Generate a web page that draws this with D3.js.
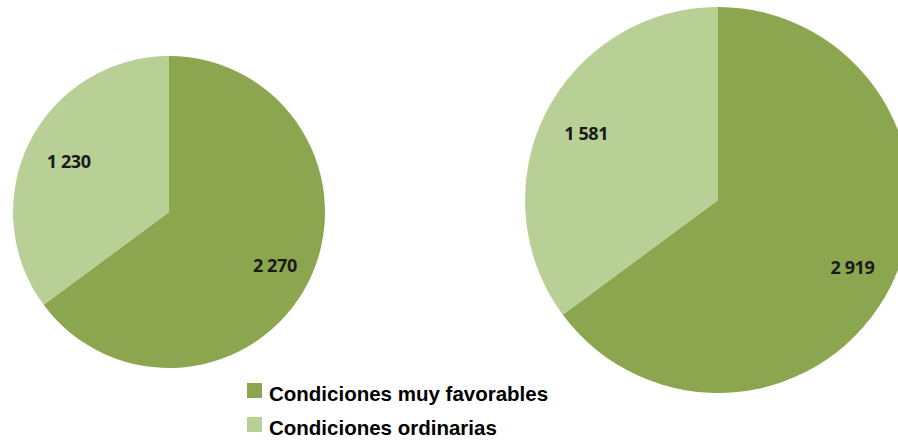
<!DOCTYPE html>
<html>
<head>
<meta charset="utf-8">
<script src="https://cdn.jsdelivr.net/npm/d3@7"></script>
<style>
  html, body { margin: 0; padding: 0; background: #ffffff; }
  svg { display: block; }
</style>
</head>
<body>
<svg id="chart" width="898" height="442"></svg>
<script>
// Data
const categories = ["Condiciones muy favorables", "Condiciones ordinarias"];
const pieLeftValues = [2270, 1230];
const pieRightValues = [2919, 1581];
const colors = ["#8ba64f", "#b8cf96"];

const svg = d3.select("#chart");
const fmt = v => d3.format(",")(v).replace(/,/g, " ");

const pies = [
  { values: pieLeftValues, cx: 169, cy: 212, r: 156, labelK: [0.76, 0.72] },
  { values: pieRightValues, cx: 718, cy: 200, r: 193, labelK: [0.78, 0.765] }
];

const pieGen = d3.pie().sort(null).value(d => d);

pies.forEach(p => {
  const g = svg.append("g").attr("transform", `translate(${p.cx},${p.cy})`);
  const arcs = pieGen(p.values);
  const arc = d3.arc().innerRadius(0).outerRadius(p.r);
  g.selectAll("path.slice").data(arcs).enter().append("path")
    .attr("class", "slice")
    .attr("d", arc)
    .attr("fill", (d, i) => colors[i]);
  g.selectAll("text.lbl").data(arcs).enter().append("text")
    .attr("class", "lbl")
    .attr("transform", (d, i) => {
      const la = d3.arc().innerRadius(p.r * p.labelK[i]).outerRadius(p.r * p.labelK[i]);
      return `translate(${la.centroid(d)})`;
    })
    .attr("text-anchor", "middle")
    .attr("dy", "0.36em")
    .attr("font-family", "'Open Sans', 'Liberation Sans', sans-serif")
    .attr("font-weight", 700)
    .attr("font-size", 18)
    .attr("letter-spacing", "-0.4")
    .attr("fill", "#1a1a1a")
    .text(d => fmt(d.data));
});

// Legend
const legend = svg.append("g").attr("transform", "translate(247,383)");
const items = legend.selectAll("g").data(categories).enter().append("g")
  .attr("transform", (d, i) => `translate(0,${i * 34})`);
items.append("rect")
  .attr("width", 15).attr("height", 15)
  .attr("fill", (d, i) => colors[i]);
items.append("text")
  .attr("x", 22).attr("y", 18)
  .attr("font-family", "'Liberation Sans', Arial, sans-serif")
  .attr("font-weight", 700)
  .attr("font-size", 20.5)
  .attr("fill", "#000")
  .text(d => d);
</script>
</body>
</html>
